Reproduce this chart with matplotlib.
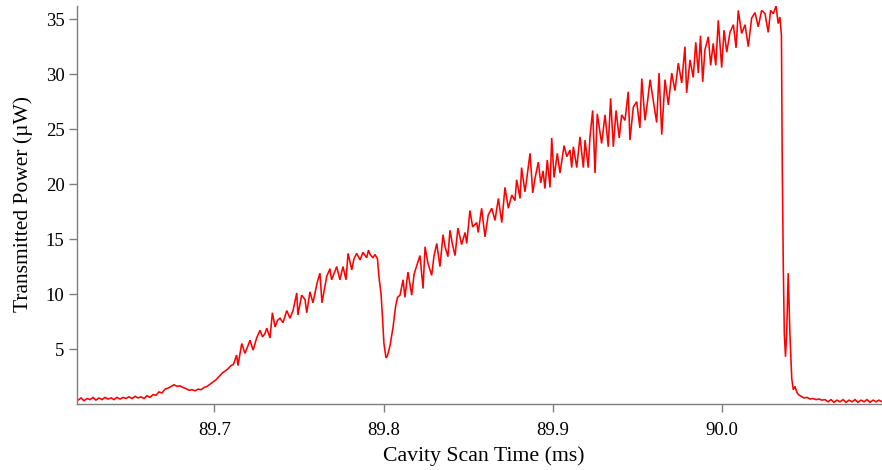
import matplotlib
matplotlib.use("Agg")
import matplotlib.pyplot as plt
import numpy as np

# Cavity transmission trace: scan time (ms) and transmitted power (uW)
time_ms = [
    89.6195, 89.6213, 89.6230, 89.6248, 89.6266, 89.6284, 89.6301, 89.6319,
    89.6337, 89.6354, 89.6372, 89.6390, 89.6408, 89.6425, 89.6443, 89.6461,
    89.6478, 89.6496, 89.6514, 89.6532, 89.6549,
    89.6567, 89.6585, 89.6603, 89.6620, 89.6638, 89.6656, 89.6673, 89.6691,
    89.6709, 89.6727, 89.6744, 89.6762, 89.6780, 89.6797, 89.6815, 89.6833,
    89.6851, 89.6868, 89.6886, 89.6904, 89.6922, 89.6939, 89.6957, 89.6975,
    89.6992, 89.7010, 89.7028, 89.7046, 89.7063, 89.7081, 89.7099,
    89.7113, 89.7132, 89.7140, 89.7162, 89.7181, 89.7199, 89.7211, 89.7229,
    89.7250, 89.7270, 89.7285, 89.7299, 89.7310, 89.7329, 89.7343, 89.7359,
    89.7373, 89.7388, 89.7406, 89.7428, 89.7447, 89.7465, 89.7487, 89.7494,
    89.7516, 89.7536, 89.7546, 89.7565, 89.7583, 89.7607, 89.7624, 89.7636,
    89.7664, 89.7683, 89.7693, 89.7723, 89.7742, 89.7760, 89.7778, 89.7790,
    89.7812, 89.7825, 89.7841, 89.7861, 89.7878, 89.7900, 89.7911, 89.7920,
    89.7937, 89.7949, 89.7964, 89.7973, 89.7985, 89.7993, 89.8002, 89.8014,
    89.8023, 89.8038, 89.8056, 89.8070, 89.8082, 89.8097,
    89.8115, 89.8126, 89.8144, 89.8166, 89.8180, 89.8196, 89.8215, 89.8233,
    89.8245, 89.8262, 89.8284, 89.8298, 89.8314, 89.8333, 89.8351, 89.8363,
    89.8380, 89.8392, 89.8407, 89.8422, 89.8439, 89.8461, 89.8481, 89.8491,
    89.8510, 89.8526, 89.8550, 89.8559, 89.8579, 89.8599, 89.8618, 89.8639,
    89.8658, 89.8678, 89.8698, 89.8717, 89.8737, 89.8757, 89.8776, 89.8786,
    89.8806, 89.8815, 89.8835, 89.8845, 89.8865, 89.8881, 89.8894, 89.8914,
    89.8928, 89.8942, 89.8953, 89.8967, 89.8983,
    89.8993, 89.9007, 89.9026, 89.9042, 89.9066, 89.9082, 89.9101, 89.9111,
    89.9121, 89.9141, 89.9160, 89.9180, 89.9190, 89.9209, 89.9219, 89.9235,
    89.9249, 89.9262, 89.9288, 89.9308, 89.9327, 89.9341, 89.9357, 89.9373,
    89.9392, 89.9406, 89.9426, 89.9445, 89.9455, 89.9475, 89.9495, 89.9514,
    89.9525, 89.9544, 89.9559, 89.9574, 89.9593, 89.9613, 89.9627, 89.9643,
    89.9662, 89.9682, 89.9702, 89.9721, 89.9741, 89.9761, 89.9780, 89.9790,
    89.9810, 89.9829, 89.9844, 89.9859,
    89.9872, 89.9885, 89.9898, 89.9918, 89.9932, 89.9947, 89.9962, 89.9977,
    89.9997, 90.0011, 90.0027, 90.0046, 90.0066, 90.0082, 90.0095, 90.0115,
    90.0135, 90.0154, 90.0174, 90.0194, 90.0213, 90.0233, 90.0253, 90.0272,
    90.0286, 90.0302, 90.0318, 90.0331, 90.0341, 90.0350,
    90.0355, 90.0361, 90.0367, 90.0374, 90.0381, 90.0390, 90.0400, 90.0411,
    90.0420, 90.0430, 90.0440, 90.0450,
    90.0466, 90.0483, 90.0501, 90.0519, 90.0536, 90.0554, 90.0572, 90.0589,
    90.0607, 90.0625, 90.0643, 90.0660, 90.0678, 90.0696, 90.0714, 90.0731,
    90.0749, 90.0767, 90.0785, 90.0802, 90.0820, 90.0838, 90.0855, 90.0873,
    90.0891, 90.0909, 90.0926, 90.0944,
]

power_uW = [
    0.35, 0.55, 0.30, 0.50, 0.40, 0.60, 0.35, 0.55,
    0.40, 0.60, 0.45, 0.55, 0.40, 0.60, 0.45, 0.60,
    0.50, 0.65, 0.50, 0.70, 0.55,
    0.65, 0.50, 0.75, 0.60, 0.85, 0.80, 1.10, 1.00,
    1.35, 1.45, 1.60, 1.75, 1.60, 1.65, 1.50, 1.40,
    1.25, 1.30, 1.20, 1.35, 1.30, 1.50, 1.60, 1.80,
    2.00, 2.20, 2.50, 2.80, 3.00, 3.20, 3.50,
    3.60, 4.45, 3.50, 5.50, 4.60, 5.30, 5.80, 4.90,
    6.00, 6.70, 6.10, 6.40, 6.90, 6.00, 8.30, 7.00,
    7.60, 7.80, 7.40, 8.50, 7.80, 8.50, 10.10, 8.10,
    9.90, 9.50, 8.30, 10.20, 9.20, 11.00, 11.90, 9.20,
    11.60, 12.30, 11.30, 12.50, 11.30, 12.50, 11.30, 13.70,
    12.20, 13.20, 13.70, 13.10, 13.80, 13.30, 14.00, 13.60,
    13.30, 13.60, 13.20, 11.50, 10.00, 8.00, 5.50, 4.20,
    4.40, 5.30, 7.00, 8.80, 9.70, 9.90,
    11.30, 9.70, 12.00, 9.90, 11.80, 12.60, 13.50, 10.50,
    14.30, 12.80, 11.70, 13.50, 14.60, 12.50, 15.40, 14.30,
    13.40, 15.80, 14.50, 13.50, 16.00, 14.50, 15.60, 14.60,
    17.60, 16.10, 16.50, 15.60, 17.80, 15.20, 17.20, 17.80,
    16.70, 18.70, 16.50, 19.70, 17.80, 19.00, 18.50, 20.40,
    18.70, 21.50, 19.30, 20.40, 22.80, 19.20, 20.50, 22.00,
    20.10, 21.20, 19.60, 22.20, 19.70,
    24.20, 20.60, 22.80, 21.00, 23.50, 22.50, 23.10, 21.50,
    23.40, 21.50, 24.30, 21.50, 24.00, 21.50, 24.30, 26.70,
    21.00, 26.40, 23.70, 26.30, 23.40, 27.80, 23.40, 26.70,
    24.20, 26.30, 25.80, 28.40, 24.00, 27.00, 27.50, 25.10,
    29.60, 25.80, 27.50, 29.50, 27.60, 25.60, 30.10, 24.50,
    29.50, 27.20, 30.10, 28.50, 31.00, 29.20, 32.50, 28.30,
    31.30, 29.70, 32.90, 30.10,
    33.50, 29.30, 32.20, 33.40, 30.80, 32.80, 30.80, 34.90,
    30.60, 34.00, 32.00, 33.80, 34.50, 32.40, 35.80, 33.70,
    34.50, 32.50, 35.10, 35.60, 34.30, 35.80, 35.50, 33.80,
    35.80, 35.50, 36.20, 34.60, 35.20, 33.50,
    21.50, 12.50, 6.40, 4.30, 6.50, 11.90, 6.40, 2.30,
    1.30, 1.60, 1.10, 0.85,
    0.70, 0.55, 0.60, 0.45, 0.50, 0.40, 0.45, 0.35,
    0.40, 0.20, 0.40, 0.15, 0.35, 0.20, 0.40, 0.15,
    0.35, 0.20, 0.40, 0.15, 0.35, 0.20, 0.40, 0.15,
    0.35, 0.20, 0.35, 0.20,
]

x_ticks = [89.7, 89.8, 89.9, 90.0]
x_tick_labels = ["89.7", "89.8", "89.9", "90.0"]
y_ticks = [5, 10, 15, 20, 25, 30, 35]

plt.rcParams["font.family"] = ["Liberation Serif", "DejaVu Serif"]

fig = plt.figure(figsize=(8.82, 4.70), dpi=100)
ax = fig.add_axes([77 / 882, 66 / 470, 805 / 882, 398 / 470])

ax.plot(time_ms, power_uW, color="#ff0000", linewidth=1.15,
        solid_joinstyle="miter")

ax.set_xlim(89.6189, 90.0944)
ax.set_ylim(0, 36.2)

ax.set_xticks(x_ticks)
ax.set_xticklabels(x_tick_labels)
ax.set_yticks(y_ticks)

for side in ("top", "right"):
    ax.spines[side].set_visible(False)
for side in ("left", "bottom"):
    ax.spines[side].set_color("#7f7f7f")
    ax.spines[side].set_linewidth(1.0)

ax.tick_params(axis="both", direction="out", length=6, width=1.0,
               color="#7f7f7f", labelsize=13.5, labelcolor="black")
ax.tick_params(axis="x", pad=7)
ax.tick_params(axis="y", pad=3)

ax.set_xlabel("Cavity Scan Time (ms)", fontsize=15.7)
ax.set_ylabel("Transmitted Power (\u00b5W)", fontsize=15.5)
ax.xaxis.set_label_coords(0.505, -0.105)
ax.yaxis.set_label_coords(-0.055, 0.503)

fig.savefig("out.png", dpi=100)
